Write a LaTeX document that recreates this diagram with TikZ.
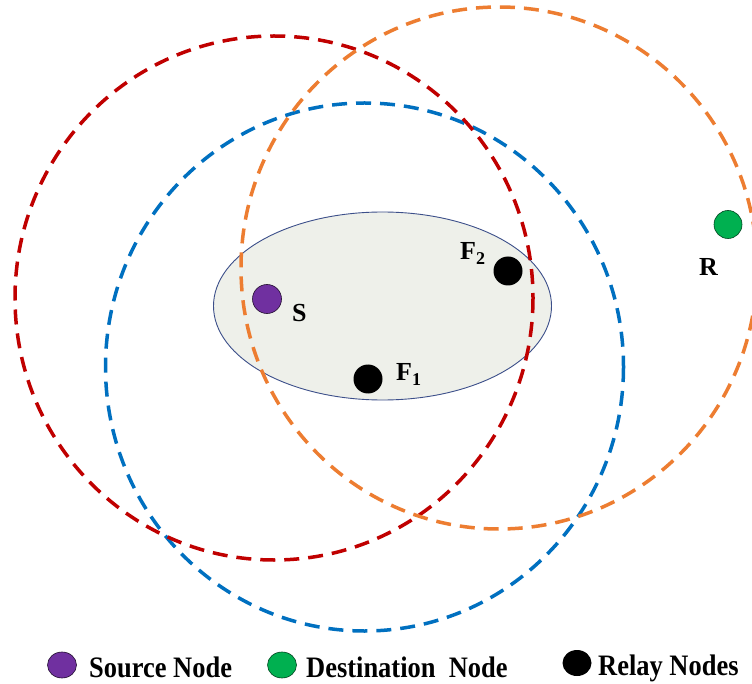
\documentclass[tikz,border=0pt]{standalone}
\usepackage{fontspec}
\setmainfont{Liberation Serif}
\definecolor{rangeRed}{HTML}{C00000}
\definecolor{rangeBlue}{HTML}{0070C0}
\definecolor{rangeOrange}{HTML}{ED7D31}
\definecolor{zoneFill}{HTML}{EEF0EA}
\definecolor{zoneLine}{HTML}{3C4F8A}
\definecolor{srcPurple}{HTML}{7030A0}
\definecolor{dstGreen}{HTML}{00B050}
\usetikzlibrary{shapes.geometric}
\tikzset{
  rangecircle/.style={line width=3.5pt, dash pattern=on 15pt off 9pt},
  dotnode/.style={circle, minimum size=29pt, inner sep=0pt},
  labeltext/.style={inner sep=0pt, anchor=base west, font=\bfseries\fontsize{26}{28}\selectfont},
  legendtext/.style={inner sep=0pt, anchor=base west, font=\bfseries\fontsize{27}{30}\selectfont},
  legenddot/.style={ellipse, minimum width=29pt, minimum height=26pt, inner sep=0pt},
}
\newcommand{\lowsub}[1]{\raisebox{-5pt}{\fontsize{18}{18}\selectfont #1}}
\newcommand{\tallword}[1]{\scalebox{0.98}[1.1]{#1}}
\begin{document}
\begin{tikzpicture}[x=1pt, y=-1pt]
  \useasboundingbox (0,0) rectangle (752,684);
  \fill[white] (0,0) rectangle (752,684);

  % shaded cluster region
  \draw[fill=zoneFill, draw=zoneLine, line width=0.9pt] (382.5,306) ellipse [x radius=169, y radius=94];

  % transmission ranges
  \draw[rangecircle, rangeBlue]   (364.5,367) ellipse [x radius=259, y radius=264];
  \draw[rangecircle, rangeRed]    (274,298)   ellipse [x radius=259, y radius=262];
  \draw[rangecircle, rangeOrange] (499,268)   ellipse [x radius=258, y radius=261];

  % nodes
  \node[dotnode, fill=srcPurple, draw=black!70!srcPurple, line width=0.6pt] (S) at (267,299) {};
  \node[dotnode, fill=black] (F1) at (368,379) {};
  \node[dotnode, fill=black] (F2) at (508,271) {};
  \node[dotnode, fill=dstGreen, draw=black!60!dstGreen, line width=0.6pt, minimum size=28pt] (R) at (728,224.5) {};

  \node[labeltext] (Slab)  at (292,322) {S};
  \node[labeltext] (F1lab) at (396,381) {F\lowsub{1}};
  \node[labeltext] (F2lab) at (460,260) {F\lowsub{2}};
  \node[labeltext] (Rlab)  at (699,276) {R};

  % legend
  \node[legenddot, fill=srcPurple, draw=black!70!srcPurple, line width=0.6pt] (legS) at (62,665) {};
  \node[legendtext] (legStext) at (89,677) {\tallword{Source Node}};
  \node[legenddot, fill=dstGreen, draw=black!60!dstGreen, line width=0.6pt] (legD) at (282,665) {};
  \node[legendtext] (legDtext) at (306,677) {\tallword{Destination\ \ Node}};
  \node[legenddot, fill=black] (legR) at (577,663) {};
  \node[legendtext] (legRtext) at (598,675) {\tallword{Relay Nodes}};
\end{tikzpicture}
\end{document}
